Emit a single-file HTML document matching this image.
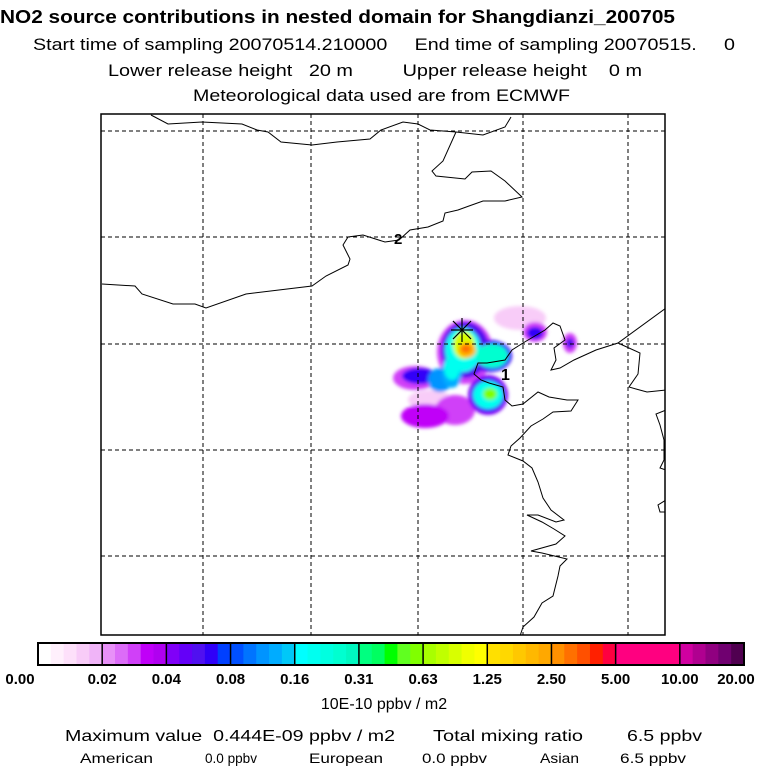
<!DOCTYPE html>
<html><head><meta charset="utf-8"><style>
body{margin:0;background:#fff}
svg{display:block;font-family:"Liberation Sans",sans-serif}
</style></head><body>
<svg id="chart" width="768" height="768" viewBox="0 0 768 768" xmlns="http://www.w3.org/2000/svg">
<defs>
<filter id="blur" x="-20%" y="-20%" width="140%" height="140%"><feGaussianBlur stdDeviation="1.8"/></filter>
<clipPath id="plotclip"><rect x="101" y="114" width="564" height="521"/></clipPath>
</defs>
<g font-size="17">
<text x="0" y="23" font-weight="bold" font-size="18" textLength="675" lengthAdjust="spacingAndGlyphs">NO2 source contributions in nested domain for Shangdianzi_200705</text>
<text x="33" y="50" textLength="702" lengthAdjust="spacingAndGlyphs" xml:space="preserve">Start time of sampling 20070514.210000     End time of sampling 20070515.     0</text>
<text x="108" y="76" textLength="534" lengthAdjust="spacingAndGlyphs" xml:space="preserve">Lower release height   20 m         Upper release height    0 m</text>
<text x="193" y="101" textLength="377" lengthAdjust="spacingAndGlyphs">Meteorological data used are from ECMWF</text>
</g>
<g id="plume" clip-path="url(#plotclip)" filter="url(#blur)"></g>
<g stroke="#000" stroke-width="1" stroke-dasharray="4,3" fill="none">
<line x1="203" y1="114" x2="203" y2="635"/><line x1="311" y1="114" x2="311" y2="635"/><line x1="418" y1="114" x2="418" y2="635"/><line x1="523" y1="114" x2="523" y2="635"/><line x1="628" y1="114" x2="628" y2="635"/>
<line x1="101" y1="131" x2="665" y2="131"/><line x1="101" y1="237" x2="665" y2="237"/><line x1="101" y1="344" x2="665" y2="344"/><line x1="101" y1="450" x2="665" y2="450"/><line x1="101" y1="556" x2="665" y2="556"/>
</g>
<g stroke="#000" stroke-width="1" fill="none" clip-path="url(#plotclip)">
<polyline points="151,115 168,124 202,122 242,124 257,130 268,132 281,142 312,145 337,142 370,139 381,130 403,122 418,124 430,130 456,132 483,135 505,127 511,117"/>
<polyline points="456,132 443,161 432,171 436,176 465,179 472,172 491,171 505,181 522,197 505,201 483,201 469,206 458,210 445,213 443,221 428,227 410,230 399,240 385,242 363,235 348,237 343,245 350,259 348,265 326,276 312,286 246,294 206,308 195,304 173,304 142,294 135,286 102,284"/>
<polyline points="666,308 618,343 596,350 574,360 560,368 551,370 556,360 554,348 565,340 560,326 553,323 545,330 523,343 512,350 505,360 487,363 478,363 474,374 481,380 489,383 503,387 505,400 512,406 523,404 538,392 549,397 567,400 578,400 571,411 553,412 543,419 531,426 520,438 511,446 508,455 523,461 532,468 538,482 543,498 551,510 564,520 556,522 538,515 527,515 542,522 554,529 565,536 556,544 531,551 542,553 567,559 560,566 558,576 553,596 542,603 534,617 523,627 520,636"/>
<polyline points="618,343 640,353 638,374 629,387 636,389 647,392 666,390"/>
<polyline points="666,410 656,414 660,425 664,440 664,460 660,468 666,470"/>
<polyline points="666,500 658,505 660,512 666,512"/>
</g>
<text x="394" y="244" font-size="15" font-weight="bold">2</text>
<text x="501" y="380" font-size="16" font-weight="bold">1</text>
<g stroke="#000" stroke-width="1.2">
<line x1="451" y1="330" x2="473" y2="330"/><line x1="462" y1="318" x2="462" y2="342"/><line x1="453" y1="321" x2="471" y2="339"/><line x1="471" y1="321" x2="453" y2="339"/>
</g>
<rect x="101" y="114" width="564" height="521" fill="none" stroke="#000" stroke-width="1.5"/>
<g id="colorbar"></g>
<g id="cbticks" font-size="15" font-weight="bold" text-anchor="middle"></g>
<text x="384" y="709" font-size="16" text-anchor="middle">10E-10 ppbv / m2</text>
<g font-size="16">
<text x="65" y="741" textLength="330" lengthAdjust="spacingAndGlyphs" xml:space="preserve">Maximum value  0.444E-09 ppbv / m2</text>
<text x="433" y="741" textLength="150" lengthAdjust="spacingAndGlyphs">Total mixing ratio</text>
<text x="627" y="741" textLength="75" lengthAdjust="spacingAndGlyphs">6.5 ppbv</text>
</g>
<g font-size="14">
<text x="80" y="763" textLength="73" lengthAdjust="spacingAndGlyphs">American</text>
<text x="205" y="763" textLength="52" lengthAdjust="spacingAndGlyphs">0.0 ppbv</text>
<text x="309" y="763" textLength="74" lengthAdjust="spacingAndGlyphs">European</text>
<text x="422" y="763" textLength="65" lengthAdjust="spacingAndGlyphs">0.0 ppbv</text>
<text x="540" y="763" textLength="39" lengthAdjust="spacingAndGlyphs">Asian</text>
<text x="620" y="763" textLength="66" lengthAdjust="spacingAndGlyphs">6.5 ppbv</text>
</g>
</svg>
<script>
const tickLabels=["0.00","0.02","0.04","0.08","0.16","0.31","0.63","1.25","2.50","5.00","10.00","20.00"];
const segColors=[
["#ffffff","#fff0fc","#fde0fa","#f8ccf8","#f0b4f8"],
["#e890f8","#dc6cf8","#d040f8","#c000f8","#b000f0"],
["#8000f8","#6400f8","#5010f0","#3000f8","#0040ff"],
["#0050ff","#0074ff","#0094ff","#00acff","#00c8f8"],
["#00ffff","#00fff0","#00ffe0","#00ffd0","#00f8c0"],
["#00ff80","#00ff60","#00ff00","#60ff20","#80ff00"],
["#a8ff00","#c0ff00","#d8ff00","#f0ff00","#ffff00"],
["#ffe000","#ffd800","#ffc800","#ffb800","#ffa800"],
["#ff9000","#ff7000","#ff5000","#ff2000","#ff0040"],
["#ff0080","#ff0080","#ff0080","#ff0080","#ff0080"],
["#d000a0","#b00090","#900080","#700070","#500050"]];
// plume blobs (drawn in order, low to high concentration)
const blobX=[520,430,455,425,465,490,465,488,415,420,440,452,488,488,463,492,452,490,464,467,466,535,535,570,570];
const blobY=[318,400,410,416,352,356,350,395,378,376,380,372,395,395,350,356,368,394,345,350,349,332,333,343,343];
const blobRx=[26,22,20,24,28,22,24,20,22,18,12,10,17,15,18,16,8,7,11,9,5,12,8,7,4];
const blobRy=[12,10,15,12,32,16,28,20,12,8,12,16,17,14,22,12,12,6,14,8,4,10,6,10,5];
const blobV=[0.012,0.015,0.03,0.033,0.03,0.07,0.06,0.04,0.03,0.07,0.12,0.14,0.07,0.2,0.2,0.25,0.2,0.6,1.0,2.2,3.0,0.03,0.07,0.03,0.06];
const NS="http://www.w3.org/2000/svg";
const cbX0=38,cbX1=744,cbY=643,cbH=22;
function cbScale(i){return cbX0+(cbX1-cbX0)*i/segColors.length;}
function colorFor(v){
 const b=[0,0.02,0.04,0.08,0.16,0.31,0.63,1.25,2.5,5,10,20];
 for(let i=0;i<b.length-1;i++){if(v<b[i+1]){const f=(v-b[i])/(b[i+1]-b[i]);return segColors[i][Math.min(4,Math.floor(f*5))];}}
 return segColors[10][4];
}
const cb=document.getElementById('colorbar');
segColors.forEach((seg,i)=>{
 const x0=cbScale(i),w=(cbScale(i+1)-x0)/seg.length;
 seg.forEach((c,j)=>{
  const r=document.createElementNS(NS,'rect');
  
  
  r.setAttribute('x',x0+j*w);r.setAttribute('y',cbY);r.setAttribute('width',w+0.5);r.setAttribute('height',cbH);r.setAttribute('fill',c);
  cb.appendChild(r);
 });
});
for(let i=0;i<=segColors.length;i++){
 const l=document.createElementNS(NS,'line');
 
 
 l.setAttribute('x1',cbScale(i));l.setAttribute('x2',cbScale(i));l.setAttribute('y1',cbY);l.setAttribute('y2',cbY+cbH);l.setAttribute('stroke','#000');l.setAttribute('stroke-width','1.5');
 cb.appendChild(l);
}
const fr=document.createElementNS(NS,'rect');


fr.setAttribute('x',cbX0);fr.setAttribute('y',cbY);fr.setAttribute('width',cbX1-cbX0);fr.setAttribute('height',cbH);fr.setAttribute('fill','none');fr.setAttribute('stroke','#000');fr.setAttribute('stroke-width','2');
cb.appendChild(fr);
const tk=document.getElementById('cbticks');
tickLabels.forEach((t,i)=>{
 let x=cbScale(i);
 if(i===0)x=20; if(i===tickLabels.length-1)x=736;
 const e=document.createElementNS(NS,'text');
 
 
 e.setAttribute('x',x);e.setAttribute('y',684);e.textContent=t;
 tk.appendChild(e);
});
const pl=document.getElementById('plume');
blobV.forEach((v,i)=>{
 const e=document.createElementNS(NS,'ellipse');
 
 
 e.setAttribute('cx',blobX[i]);e.setAttribute('cy',blobY[i]);e.setAttribute('rx',blobRx[i]);e.setAttribute('ry',blobRy[i]);e.setAttribute('fill',colorFor(v));
 pl.appendChild(e);
});
</script>
</body></html>
